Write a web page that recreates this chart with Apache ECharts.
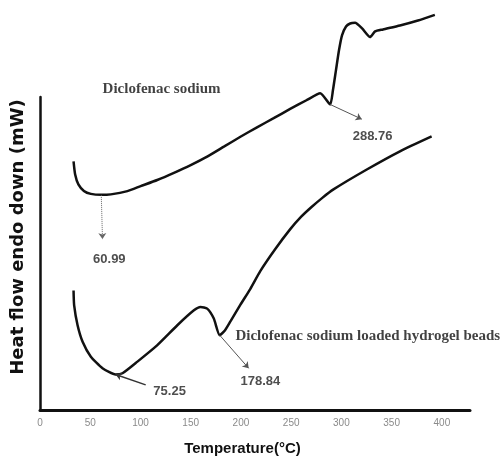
<!DOCTYPE html>
<html>
<head>
<meta charset="utf-8">
<script src="https://cdn.jsdelivr.net/npm/echarts@6/dist/echarts.min.js"></script>
<style>
  html, body { margin: 0; padding: 0; background: #ffffff; }
  #chart { width: 503px; height: 461px; }
</style>
</head>
<body>
<div id="chart"></div>
<script>
// DSC thermograms: heat flow (arbitrary mW scale, endo down) against temperature (°C)
const tempTicks = [0, 50, 100, 150, 200, 250, 300, 350, 400];

// Diclofenac sodium
const sodiumTemp = [33.4, 35.0, 38.2, 43.7, 50.6, 60.99, 70.5, 87.0, 100.2, 116.7, 133.3, 150.0, 166.4, 183.0,
  199.5, 216.0, 232.6, 249.0, 265.7, 278.9, 288.76, 291.6, 294.6, 297.6, 300.6, 304.6, 308.7, 313.6, 320.6,
  328.5, 333.5, 341.4, 358.3, 376.2, 393.0];
const sodiumFlow = [250.3, 237.0, 227.0, 220.5, 217.5, 216.5, 217.0, 220.3, 225.3, 231.5, 238.7, 246.5, 255.0, 265.0,
  275.0, 284.5, 293.7, 303.0, 312.0, 318.7, 307.5, 322.0, 342.0, 362.0, 377.0, 386.0, 389.0, 389.7, 384.0,
  375.3, 381.0, 383.0, 387.0, 392.0, 397.7];

// Diclofenac sodium loaded hydrogel beads
const beadsTemp = [33.4, 34.0, 37.4, 42.4, 50.6, 62.2, 75.25, 82.1, 97.0, 116.8, 136.7, 153.2, 159.8, 166.4, 173.0,
  178.84, 184.0, 190.0, 199.5, 209.4, 219.4, 234.2, 249.1, 260.0, 270.0, 281.0, 292.1, 325.3, 358.3, 389.8];
const beadsFlow = [120.3, 105.3, 85.3, 68.7, 53.7, 42.0, 35.8, 37.0, 48.7, 65.3, 85.3, 100.3, 103.7, 102.0, 92.0,
  75.3, 80.0, 90.0, 106.0, 122.0, 140.0, 162.0, 182.0, 194.5, 204.0, 213.5, 222.0, 242.0, 260.3, 275.3];

// Peak temperatures marked on the curves
const peakTemps = [60.99, 288.76, 75.25, 178.84];

function pairs(xs, ys) { return xs.map((x, i) => [x, ys[i]]); }
function flowAt(xs, ys, t) {
  for (let i = 0; i < xs.length - 1; i++) {
    if (t >= xs[i] && t <= xs[i + 1]) {
      const f = (t - xs[i]) / (xs[i + 1] - xs[i]);
      return ys[i] + f * (ys[i + 1] - ys[i]);
    }
  }
  return ys[ys.length - 1];
}

const peakCurves = [[sodiumTemp, sodiumFlow], [sodiumTemp, sodiumFlow], [beadsTemp, beadsFlow], [beadsTemp, beadsFlow]];
const peakPoints = peakTemps.map((t, i) => [t, flowAt(peakCurves[i][0], peakCurves[i][1], t)]);

const numberStyle = { fontFamily: 'Liberation Sans', fontWeight: 'bold', fontSize: 13, color: '#222' };
const serifStyle = { fontFamily: 'Liberation Serif', fontWeight: 'bold', fontSize: 15, color: '#111' };
const arrowStyle = { color: '#555', width: 1, type: 'solid' };

const chart = echarts.init(document.getElementById('chart'), null, { renderer: 'canvas' });
chart.setOption({
  animation: false,
  backgroundColor: '#ffffff',
  grid: { left: 40, right: 33, top: 97, bottom: 49 },
  xAxis: {
    type: 'value', min: 0, max: 428, interval: 50,
    name: 'Temperature(°C)', nameLocation: 'middle', nameGap: 31,
    nameTextStyle: { fontFamily: 'Liberation Sans', fontWeight: 'bold', fontSize: 15, color: '#111', padding: [0, 25, 0, 0] },
    axisLine: { show: true, lineStyle: { color: '#111', width: 3 } },
    axisTick: { show: false },
    splitLine: { show: false },
    axisLabel: {
      showMaxLabel: false, margin: 8, color: '#8a8a8a', fontSize: 10, fontFamily: 'Liberation Sans',
      formatter: v => (tempTicks.indexOf(v) >= 0 ? String(v) : '')
    }
  },
  yAxis: {
    type: 'value', min: 0, max: 315,
    name: 'Heat flow endo down (mW)', nameLocation: 'middle', nameGap: 13,
    nameTextStyle: { fontFamily: 'DejaVu Sans', fontWeight: 'bold', fontSize: 18, color: '#111', padding: [0, 0, 0, 33] },
    axisLine: { show: true, lineStyle: { color: '#111', width: 2.5 } },
    axisTick: { show: false },
    axisLabel: { show: false },
    splitLine: { show: false }
  },
  series: [
    {
      name: 'Diclofenac sodium', type: 'line', data: pairs(sodiumTemp, sodiumFlow),
      smooth: 0.2, showSymbol: false, clip: false,
      lineStyle: { color: '#111', width: 2.5 }
    },
    {
      name: 'Diclofenac sodium loaded hydrogel beads', type: 'line', data: pairs(beadsTemp, beadsFlow),
      smooth: 0.2, showSymbol: false, clip: false,
      lineStyle: { color: '#111', width: 2.5 }
    },
    {
      name: 'notes', type: 'scatter', symbolSize: 0, clip: false, silent: true,
      label: { show: true, position: 'inside' },
      data: [
        { value: [121, 323], label: Object.assign({ formatter: 'Diclofenac sodium' }, serifStyle) },
        { value: [194.5, 74.5], label: Object.assign({ formatter: 'Diclofenac sodium loaded hydrogel beads', position: 'right', distance: 0 }, serifStyle) },
        { value: [69, 152], label: Object.assign({ formatter: peakTemps[0].toFixed(2) }, numberStyle) },
        { value: [331, 275], label: Object.assign({ formatter: peakTemps[1].toFixed(2) }, numberStyle) },
        { value: [129, 19], label: Object.assign({ formatter: peakTemps[2].toFixed(2) }, numberStyle) },
        { value: [219.4, 29], label: Object.assign({ formatter: peakTemps[3].toFixed(2) }, numberStyle) }
      ],
      markLine: {
        silent: true, symbol: ['none', 'arrow'], symbolSize: 6,
        label: { show: false },
        lineStyle: arrowStyle,
        data: [
          [{ coord: peakPoints[0], lineStyle: { type: 'dotted', color: '#666', width: 1 } }, { coord: [62.2, 172] }],
          [{ coord: peakPoints[1] }, { coord: [320.3, 292.7] }],
          [{ coord: [105.2, 25.3], lineStyle: { curveness: -0.15, color: '#333', width: 1.5 } }, { coord: peakPoints[2] }],
          [{ coord: peakPoints[3] }, { coord: [207.7, 42] }]
        ]
      }
    }
  ]
});
</script>
</body>
</html>
